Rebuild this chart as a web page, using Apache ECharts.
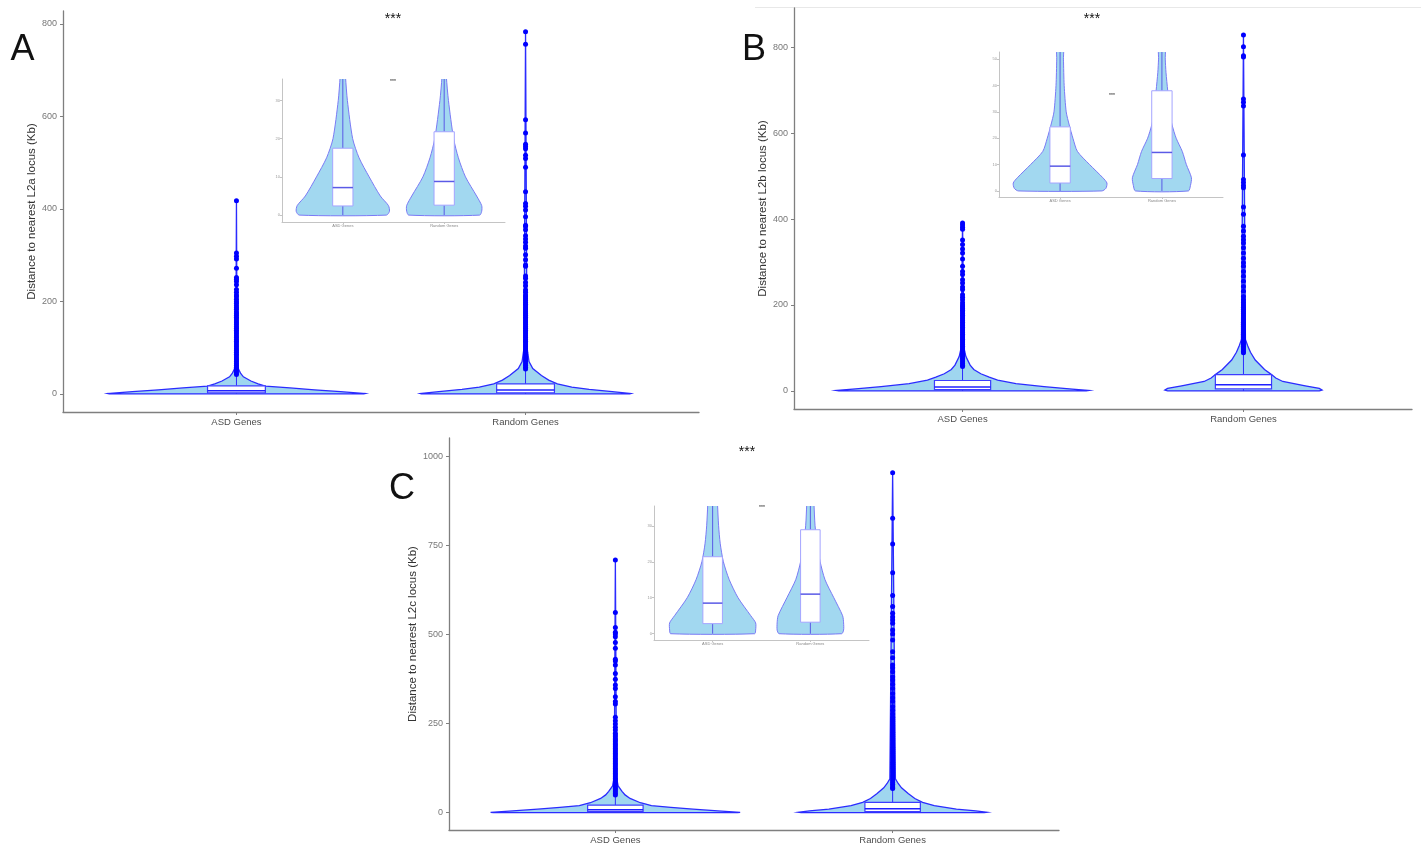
<!DOCTYPE html>
<html>
<head>
<meta charset="utf-8">
<script src="https://cdn.jsdelivr.net/npm/echarts@6/dist/echarts.min.js"></script>
<style>
  html, body { margin: 0; padding: 0; background: #fff; }
  #chart { width: 1421px; height: 845px; }
</style>
</head>
<body>
<div id="chart"></div>
<script>
const categories = ['ASD Genes', 'Random Genes']
const catPos = [1, 2]

// y tick labels
const yTicksA = [0, 200, 400, 600, 800]
const yTicksB = [0, 200, 400, 600, 800]
const yTicksC = [0, 250, 500, 750, 1000]
const insetTicksA = [0, 10, 20, 30]
const insetTicksB = [0, 10, 20, 30, 40, 50]
const insetTicksC = [0, 10, 20, 30]

// box stats [ASD, Random] (Kb)
const q1A = [2.4, 2.6], medA = [7.2, 8.8], q3A = [17.5, 21.8], hiA = [40, 51]
const q1B = [3.0, 4.7], medB = [9.4, 14.6], q3B = [24.3, 38.0], hiB = [56, 88]
const q1C = [2.8, 3.2], medC = [8.5, 11.0], q3C = [21.4, 28.9], hiC = [49, 67]
const loAll = [0, 0]

// outliers
const outAsdA = [418, 305, 298, 292, 272, 252, 248, 243, 236, 226, 220, 214, 210, 205, 200, 196, 191, 187, 183, 178, 174, 170, 166, 162, 158, 154, 150, 146, 142, 138, 134, 130, 126, 122, 118, 114, 110, 106, 102, 98, 94, 90, 86, 82, 78, 74, 70, 66, 62, 58, 54, 50, 46, 42]
const outRandA = [783, 756, 593, 564, 540, 535, 530, 516, 509, 490, 437, 412, 406, 398, 383, 365, 362, 355, 342, 335, 328, 320, 315, 301, 290, 279, 276, 255, 250, 241, 234, 225, 220, 214, 210, 206, 202, 198, 194, 190, 186, 182, 178, 174, 170, 166, 162, 158, 154, 150, 146, 142, 138, 134, 130, 126, 122, 118, 114, 110, 106, 102, 98, 94, 90, 86, 82, 78, 74, 70, 66, 62, 58, 54]
const outAsdB = [391, 386, 381, 376, 351, 341, 330, 321, 307, 290, 278, 271, 259, 251, 242, 236, 224, 218, 212, 205, 200, 196, 192, 188, 184, 180, 176, 172, 168, 164, 160, 156, 152, 148, 144, 140, 136, 132, 128, 124, 120, 116, 112, 108, 104, 100, 96, 92, 88, 84, 80, 76, 72, 68, 64, 60, 57]
const outRandB = [828, 801, 780, 777, 679, 672, 663, 549, 492, 485, 478, 473, 428, 411, 383, 372, 360, 352, 344, 333, 321, 309, 298, 290, 278, 267, 255, 243, 232, 220, 212, 206, 200, 195, 190, 185, 180, 175, 170, 165, 160, 155, 150, 145, 140, 136, 132, 128, 124, 120, 116, 112, 108, 104, 100, 96, 92, 89]
const outAsdC = [710, 562, 520, 507, 502, 494, 478, 462, 431, 426, 415, 391, 375, 359, 349, 326, 312, 305, 268, 258, 249, 240, 232, 223, 218, 213, 208, 204, 199, 194, 190, 185, 180, 176, 171, 166, 162, 157, 152, 148, 143, 138, 134, 129, 124, 120, 115, 110, 106, 101, 96, 92, 87, 82, 78, 73, 68, 64, 59, 54, 50]
const outRandC = [955, 827, 755, 674, 610, 579, 560, 550, 541, 532, 513, 502, 485, 452, 435, 415, 407, 396, 382, 373, 361, 349, 335, 323, 312, 298, 288, 277, 268, 262, 256, 250, 244, 238, 232, 226, 220, 214, 208, 202, 196, 190, 184, 178, 172, 166, 160, 154, 148, 142, 136, 130, 124, 118, 112, 106, 100, 95, 90, 85, 80, 75, 70, 68]

// violin outlines: value (Kb) and half width (category units)
const vAsdA = [0, 1, 5, 9, 13, 17, 22, 28, 37, 45, 54, 70, 100, 418]
const wAsdA = [0.44, 0.446, 0.36, 0.27, 0.185, 0.1, 0.075, 0.05, 0.024, 0.014, 0.007, 0.004, 0.002, 0]
const vRandA = [0, 1, 5, 10, 15, 22, 30, 40, 55, 70, 100, 783]
const wRandA = [0.36, 0.365, 0.3, 0.22, 0.16, 0.11, 0.08, 0.055, 0.025, 0.012, 0.005, 0]
const vAsdB = [0, 1, 5, 10, 17, 25, 32, 40, 50, 60, 80, 100, 391]
const wAsdB = [0.44, 0.45, 0.38, 0.29, 0.19, 0.125, 0.095, 0.065, 0.04, 0.027, 0.012, 0.005, 0]
const vRandB = [0, 2, 6, 12, 22, 30, 38, 50, 72, 90, 105, 120, 828]
const wRandB = [0.27, 0.28, 0.27, 0.22, 0.14, 0.115, 0.1, 0.075, 0.042, 0.025, 0.015, 0.007, 0]
const vAsdC = [0, 1, 5, 10, 15, 20, 28, 40, 50, 60, 75, 100, 710]
const wAsdC = [0.44, 0.45, 0.37, 0.28, 0.2, 0.13, 0.09, 0.053, 0.035, 0.024, 0.01, 0.004, 0]
const vRandC = [0, 1, 5, 10, 20, 29, 40, 54, 70, 82, 95, 955]
const wRandC = [0.33, 0.34, 0.3, 0.23, 0.15, 0.108, 0.08, 0.056, 0.032, 0.02, 0.01, 0]

// inset violins (0-35 Kb zoom)
const ivAsdA = [0, 1, 2.5, 5, 10, 15, 20, 30, 36, 40]
const iwAsdA = [0.43, 0.46, 0.45, 0.37, 0.26, 0.16, 0.097, 0.045, 0.027, 0.02]
const ivRandA = [0, 1, 2.5, 5, 10, 15, 20, 30, 36, 40]
const iwRandA = [0.35, 0.37, 0.37, 0.32, 0.21, 0.14, 0.093, 0.042, 0.022, 0.015]
const ivAsdB = [0, 1, 3, 5, 10, 15, 20, 25, 30, 40, 50, 55]
const iwAsdB = [0.41, 0.45, 0.46, 0.42, 0.29, 0.17, 0.126, 0.09, 0.06, 0.04, 0.033, 0.03]
const ivRandB = [0, 2, 5, 10, 15, 20, 25, 30, 38, 45, 50, 55]
const iwRandB = [0.26, 0.28, 0.29, 0.24, 0.2, 0.14, 0.1, 0.075, 0.057, 0.04, 0.033, 0.03]
const ivAsdC = [0, 1, 3, 5, 10, 15, 20, 25, 30, 36, 40]
const iwAsdC = [0.43, 0.44, 0.44, 0.39, 0.26, 0.17, 0.11, 0.078, 0.061, 0.05, 0.045]
const ivRandC = [0, 1, 3, 5, 10, 15, 20, 25, 30, 36, 40]
const iwRandC = [0.32, 0.34, 0.34, 0.33, 0.24, 0.15, 0.1, 0.07, 0.048, 0.037, 0.03]

const FONT = '"Liberation Sans", Arial, sans-serif'
const BOX_HALF = 0.1

const panels = [
  { name: 'Distance to nearest L2a locus (Kb)', ticks: yTicksA, iticks: insetTicksA, yr: [-39, 828], iyr: [-1.8, 35.6], gap: 22,
    grid: { left: 63, top: 11, width: 636, height: 401 }, igrid: { left: 282, top: 79, width: 223, height: 143 },
    q1: q1A, med: medA, q3: q3A, hi: hiA, out: [outAsdA, outRandA],
    vio: [[vAsdA, wAsdA], [vRandA, wRandA]], ivio: [[ivAsdA, iwAsdA], [ivRandA, iwRandA]] },
  { name: 'Distance to nearest L2b locus (Kb)', ticks: yTicksB, iticks: insetTicksB, yr: [-42, 891], iyr: [-2.3, 52.7], gap: 22,
    grid: { left: 794, top: 8, width: 618, height: 401 }, igrid: { left: 999, top: 52, width: 224, height: 145 },
    q1: q1B, med: medB, q3: q3B, hi: hiB, out: [outAsdB, outRandB],
    vio: [[vAsdB, wAsdB], [vRandB, wRandB]], ivio: [[ivAsdB, iwAsdB], [ivRandB, iwRandB]] },
  { name: 'Distance to nearest L2c locus (Kb)', ticks: yTicksC, iticks: insetTicksC, yr: [-48.6, 1052.5], iyr: [-1.75, 35.5], gap: 28,
    grid: { left: 449, top: 438, width: 610, height: 392 }, igrid: { left: 654, top: 506, width: 215, height: 134 },
    q1: q1C, med: medC, q3: q3C, hi: hiC, out: [outAsdC, outRandC],
    vio: [[vAsdC, wAsdC], [vRandC, wRandC]], ivio: [[ivAsdC, iwAsdC], [ivRandC, iwRandC]] }
]

function violinRenderer(profiles, style, smooth) {
  return function (params, api) {
    const p = profiles[params.dataIndex]
    const xc = api.value(0)
    const pts = []
    for (let i = 0; i < p[0].length; i++) pts.push(api.coord([xc + p[1][i], p[0][i]]))
    for (let i = p[0].length - 1; i >= 0; i--) pts.push(api.coord([xc - p[1][i], p[0][i]]))
    return { type: 'polygon', shape: { points: pts, smooth: smooth }, style: style }
  }
}

function boxRenderer(st) {
  return function (params, api) {
    const x = api.value(0)
    const lo = api.coord([x, api.value(1)])
    const q1 = api.coord([x, api.value(2)])
    const md = api.value(3)
    const q3 = api.coord([x, api.value(4)])
    const hi = api.coord([x, api.value(5)])
    const l = api.coord([x - BOX_HALF, md])
    const r = api.coord([x + BOX_HALF, md])
    return {
      type: 'group',
      children: [
        { type: 'line', shape: { x1: lo[0], y1: lo[1], x2: q1[0], y2: q1[1] }, style: { stroke: st.whisker, lineWidth: 1 } },
        { type: 'line', shape: { x1: q3[0], y1: q3[1], x2: hi[0], y2: hi[1] }, style: { stroke: st.whisker, lineWidth: 1 } },
        { type: 'rect', shape: { x: l[0], y: q3[1], width: r[0] - l[0], height: q1[1] - q3[1] },
          style: { fill: '#ffffff', stroke: st.box, lineWidth: st.boxWidth } },
        { type: 'line', shape: { x1: l[0], y1: l[1], x2: r[0], y2: r[1] }, style: { stroke: st.median, lineWidth: 1.5 } }
      ]
    }
  }
}

const grids = [], xAxes = [], yAxes = [], series = []

panels.forEach((p, k) => {
  const gi = k * 2, ii = k * 2 + 1
  grids.push(Object.assign({ containLabel: false, outerBoundsMode: 'none' }, p.grid))
  grids.push(Object.assign({ containLabel: false, outerBoundsMode: 'none' }, p.igrid))

  // main axes
  xAxes.push({
    gridIndex: gi, type: 'value', min: 0.4, max: 2.6, splitLine: { show: false },
    axisLine: { onZero: false, lineStyle: { color: '#7f7f7f', width: 1.3 } },
    axisTick: { customValues: catPos, length: 3, lineStyle: { color: '#7f7f7f' } },
    axisLabel: { customValues: catPos, formatter: v => categories[catPos.indexOf(v)], color: '#4d4d4d', fontSize: 9.5, margin: 5, fontFamily: FONT }
  })
  yAxes.push({
    gridIndex: gi, type: 'value', min: p.yr[0], max: p.yr[1], splitLine: { show: false },
    name: p.name, nameLocation: 'middle', nameGap: p.gap,
    nameTextStyle: { fontSize: 11.5, color: '#333', fontFamily: FONT },
    axisLine: { show: true, onZero: false, lineStyle: { color: '#7f7f7f', width: 1.3 } },
    axisTick: { show: true, customValues: p.ticks, length: 3, lineStyle: { color: '#7f7f7f' } },
    axisLabel: { customValues: p.ticks, formatter: v => String(v), color: '#777', fontSize: 9, margin: 6, fontFamily: FONT }
  })
  // inset axes
  xAxes.push({
    gridIndex: ii, type: 'value', min: 0.4, max: 2.6, splitLine: { show: false },
    axisLine: { onZero: false, lineStyle: { color: '#c4c4c4', width: 1 } },
    axisTick: { customValues: catPos, length: 2, lineStyle: { color: '#c4c4c4' } },
    axisLabel: { customValues: catPos, formatter: v => categories[catPos.indexOf(v)], color: '#888', fontSize: 4, margin: 2, fontFamily: FONT }
  })
  yAxes.push({
    gridIndex: ii, type: 'value', min: p.iyr[0], max: p.iyr[1], splitLine: { show: false },
    axisLine: { show: true, onZero: false, lineStyle: { color: '#c4c4c4', width: 1 } },
    axisTick: { show: true, customValues: p.iticks, length: 2, lineStyle: { color: '#c4c4c4' } },
    axisLabel: { customValues: p.iticks, formatter: v => String(v), color: '#999', fontSize: 4, margin: 2, fontFamily: FONT }
  })

  const boxData = catPos.map((x, j) => [x, loAll[j], p.q1[j], p.med[j], p.q3[j], p.hi[j]])

  series.push({
    type: 'custom', xAxisIndex: gi, yAxisIndex: gi, z: 1,
    data: catPos.map(x => [x, 0]), encode: { x: 0, y: 1 },
    renderItem: violinRenderer(p.vio, { fill: '#9fd6ef', stroke: '#2b2bff', lineWidth: 1.3 }, 0)
  })
  series.push({
    type: 'custom', xAxisIndex: gi, yAxisIndex: gi, z: 2,
    data: boxData, encode: { x: 0, y: [1, 2, 3, 4, 5] },
    renderItem: boxRenderer({ whisker: '#2b2bff', box: '#3d3dff', median: '#2020ff', boxWidth: 1.2 })
  })
  series.push({
    type: 'scatter', xAxisIndex: gi, yAxisIndex: gi, z: 3, symbolSize: 5,
    itemStyle: { color: '#0000ff', opacity: 1 },
    data: p.out[0].map(v => [catPos[0], v]).concat(p.out[1].map(v => [catPos[1], v]))
  })
  series.push({
    type: 'custom', xAxisIndex: ii, yAxisIndex: ii, z: 4, clip: true,
    data: catPos.map(x => [x, 0]), encode: { x: 0, y: 1 },
    renderItem: violinRenderer(p.ivio, { fill: '#a2d8f0', stroke: '#7a7af5', lineWidth: 1 }, 0.25)
  })
  series.push({
    type: 'custom', xAxisIndex: ii, yAxisIndex: ii, z: 5, clip: true,
    data: boxData, encode: { x: 0, y: [1, 2, 3, 4, 5] },
    renderItem: boxRenderer({ whisker: '#5a5ae6', box: '#a4a4ff', median: '#5a5ae6', boxWidth: 1 })
  })
})

function label(text, x, y, size) {
  return { type: 'text', x: x, y: y, z: 100,
    style: { text: text, fill: '#111', font: size + 'px ' + FONT, textAlign: 'center', textVerticalAlign: 'middle', align: 'center', verticalAlign: 'middle' } }
}

const chart = echarts.init(document.getElementById('chart'))
chart.setOption({
  animation: false,
  backgroundColor: '#ffffff',
  grid: grids,
  xAxis: xAxes,
  yAxis: yAxes,
  series: series,
  graphic: [
    { type: 'line', shape: { x1: 755, y1: 7.5, x2: 1421, y2: 7.5 }, style: { stroke: '#e8e8e8', lineWidth: 1 } },
    label('A', 22.5, 50.5, 36),
    label('B', 754, 50.5, 36),
    label('C', 402, 489, 36),
    label('***', 393, 19, 14),
    label('***', 1092, 19, 14),
    label('***', 747, 452, 14),
    label('***', 393, 82, 5),
    label('***', 1112, 96, 5),
    label('***', 762, 508, 5)
  ]
})
</script>
</body>
</html>
